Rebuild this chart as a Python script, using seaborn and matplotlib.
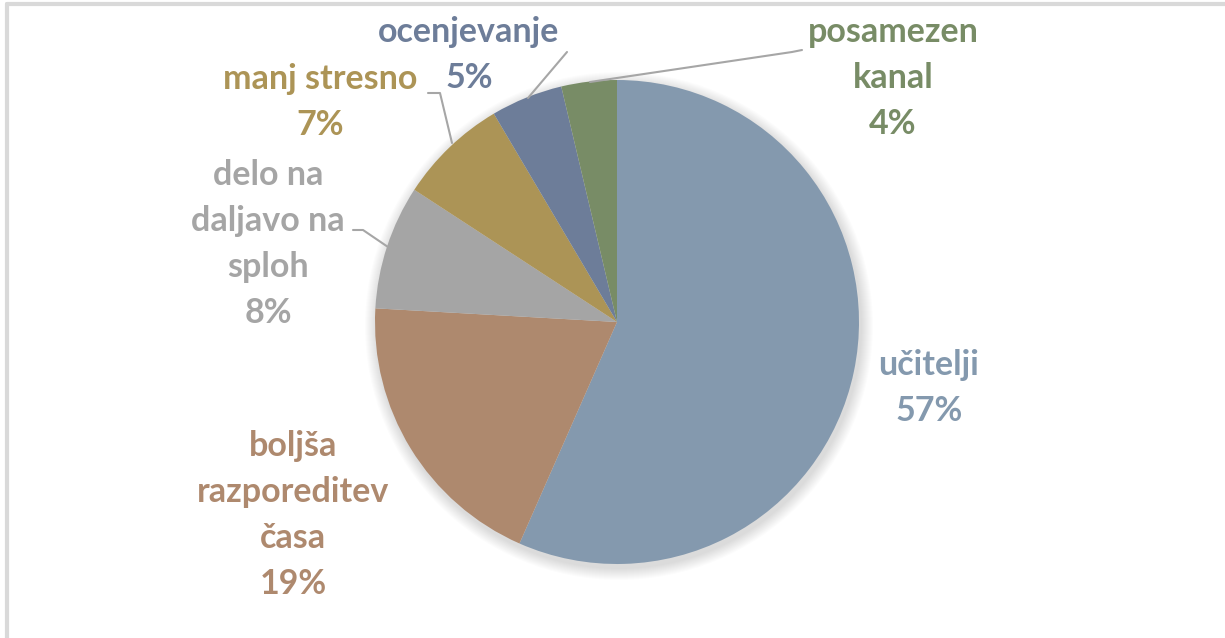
import numpy as np
import matplotlib.pyplot as plt
import seaborn as sns
from matplotlib.patches import Circle

# podatki (delež odgovorov)
labels = ['učitelji', 'boljša\nrazporeditev\nčasa', 'delo na\ndaljavo na\nsploh',
          'manj stresno', 'ocenjevanje', 'posamezen\nkanal']
shares = [56.6, 19.3, 8.3, 7.3, 4.8, 3.7]
colors = ['#8499AE', '#AE896E', '#A5A5A5', '#AC9456', '#6D7D99', '#788C66']

sns.set_theme(style='white')
plt.rcParams['font.family'] = ['Lato', 'DejaVu Sans']

W, H = 1225, 638
fig = plt.figure(figsize=(W / 100, H / 100), dpi=100)
ax = fig.add_axes([0, 0, 1, 1])
ax.set_xlim(0, W)
ax.set_ylim(0, H)
ax.axis('off')

cx, cy, r = 617, H - 322, 242

# mehka senca pod tortnim grafom
for i in range(12):
    ax.add_patch(Circle((cx + 2, cy - 4), r + 12 - i, color='black',
                        alpha=0.012, lw=0, zorder=1))

ax.pie(shares, colors=colors, startangle=90, counterclock=False,
       center=(cx, cy), radius=r, wedgeprops=dict(lw=0, zorder=2), frame=True)
ax.set_xlim(0, W)
ax.set_ylim(0, H)
ax.set_aspect('equal')
ax.axis('off')

# položaji oznak (piksli)
pos = [(929, 388), (293, 515), (268, 244), (320, 102), (469, 55), (893, 78)]
for lab, sh, col, (x, y) in zip(labels, shares, colors, pos):
    txt = f"{lab}\n{sh:.0f}%"
    ax.text(x, H - y, txt, ha='center', va='center', color=col,
            fontsize=24.5, fontweight='bold', linespacing=1.55, zorder=5)

# povezovalne črte
lc = '#A6A6A6'
leaders = [
    [(567, 52), (528, 98)],
    [(428, 93), (440, 93), (452, 143)],
    [(353, 230), (363, 230), (388, 247)],
    [(802, 50), (792, 52), (590, 82)],
]
for pts in leaders:
    xs = [p[0] for p in pts]
    ys = [H - p[1] for p in pts]
    ax.plot(xs, ys, color=lc, lw=1.5, zorder=4)

# okvir (zgoraj in levo)
ax.plot([7, W], [H - 4, H - 4], color='#D9D9D9', lw=3, zorder=6)
ax.plot([7, 7], [0, H - 4], color='#D9D9D9', lw=3, zorder=6)

fig.savefig('out.png', dpi=100, facecolor='white')
